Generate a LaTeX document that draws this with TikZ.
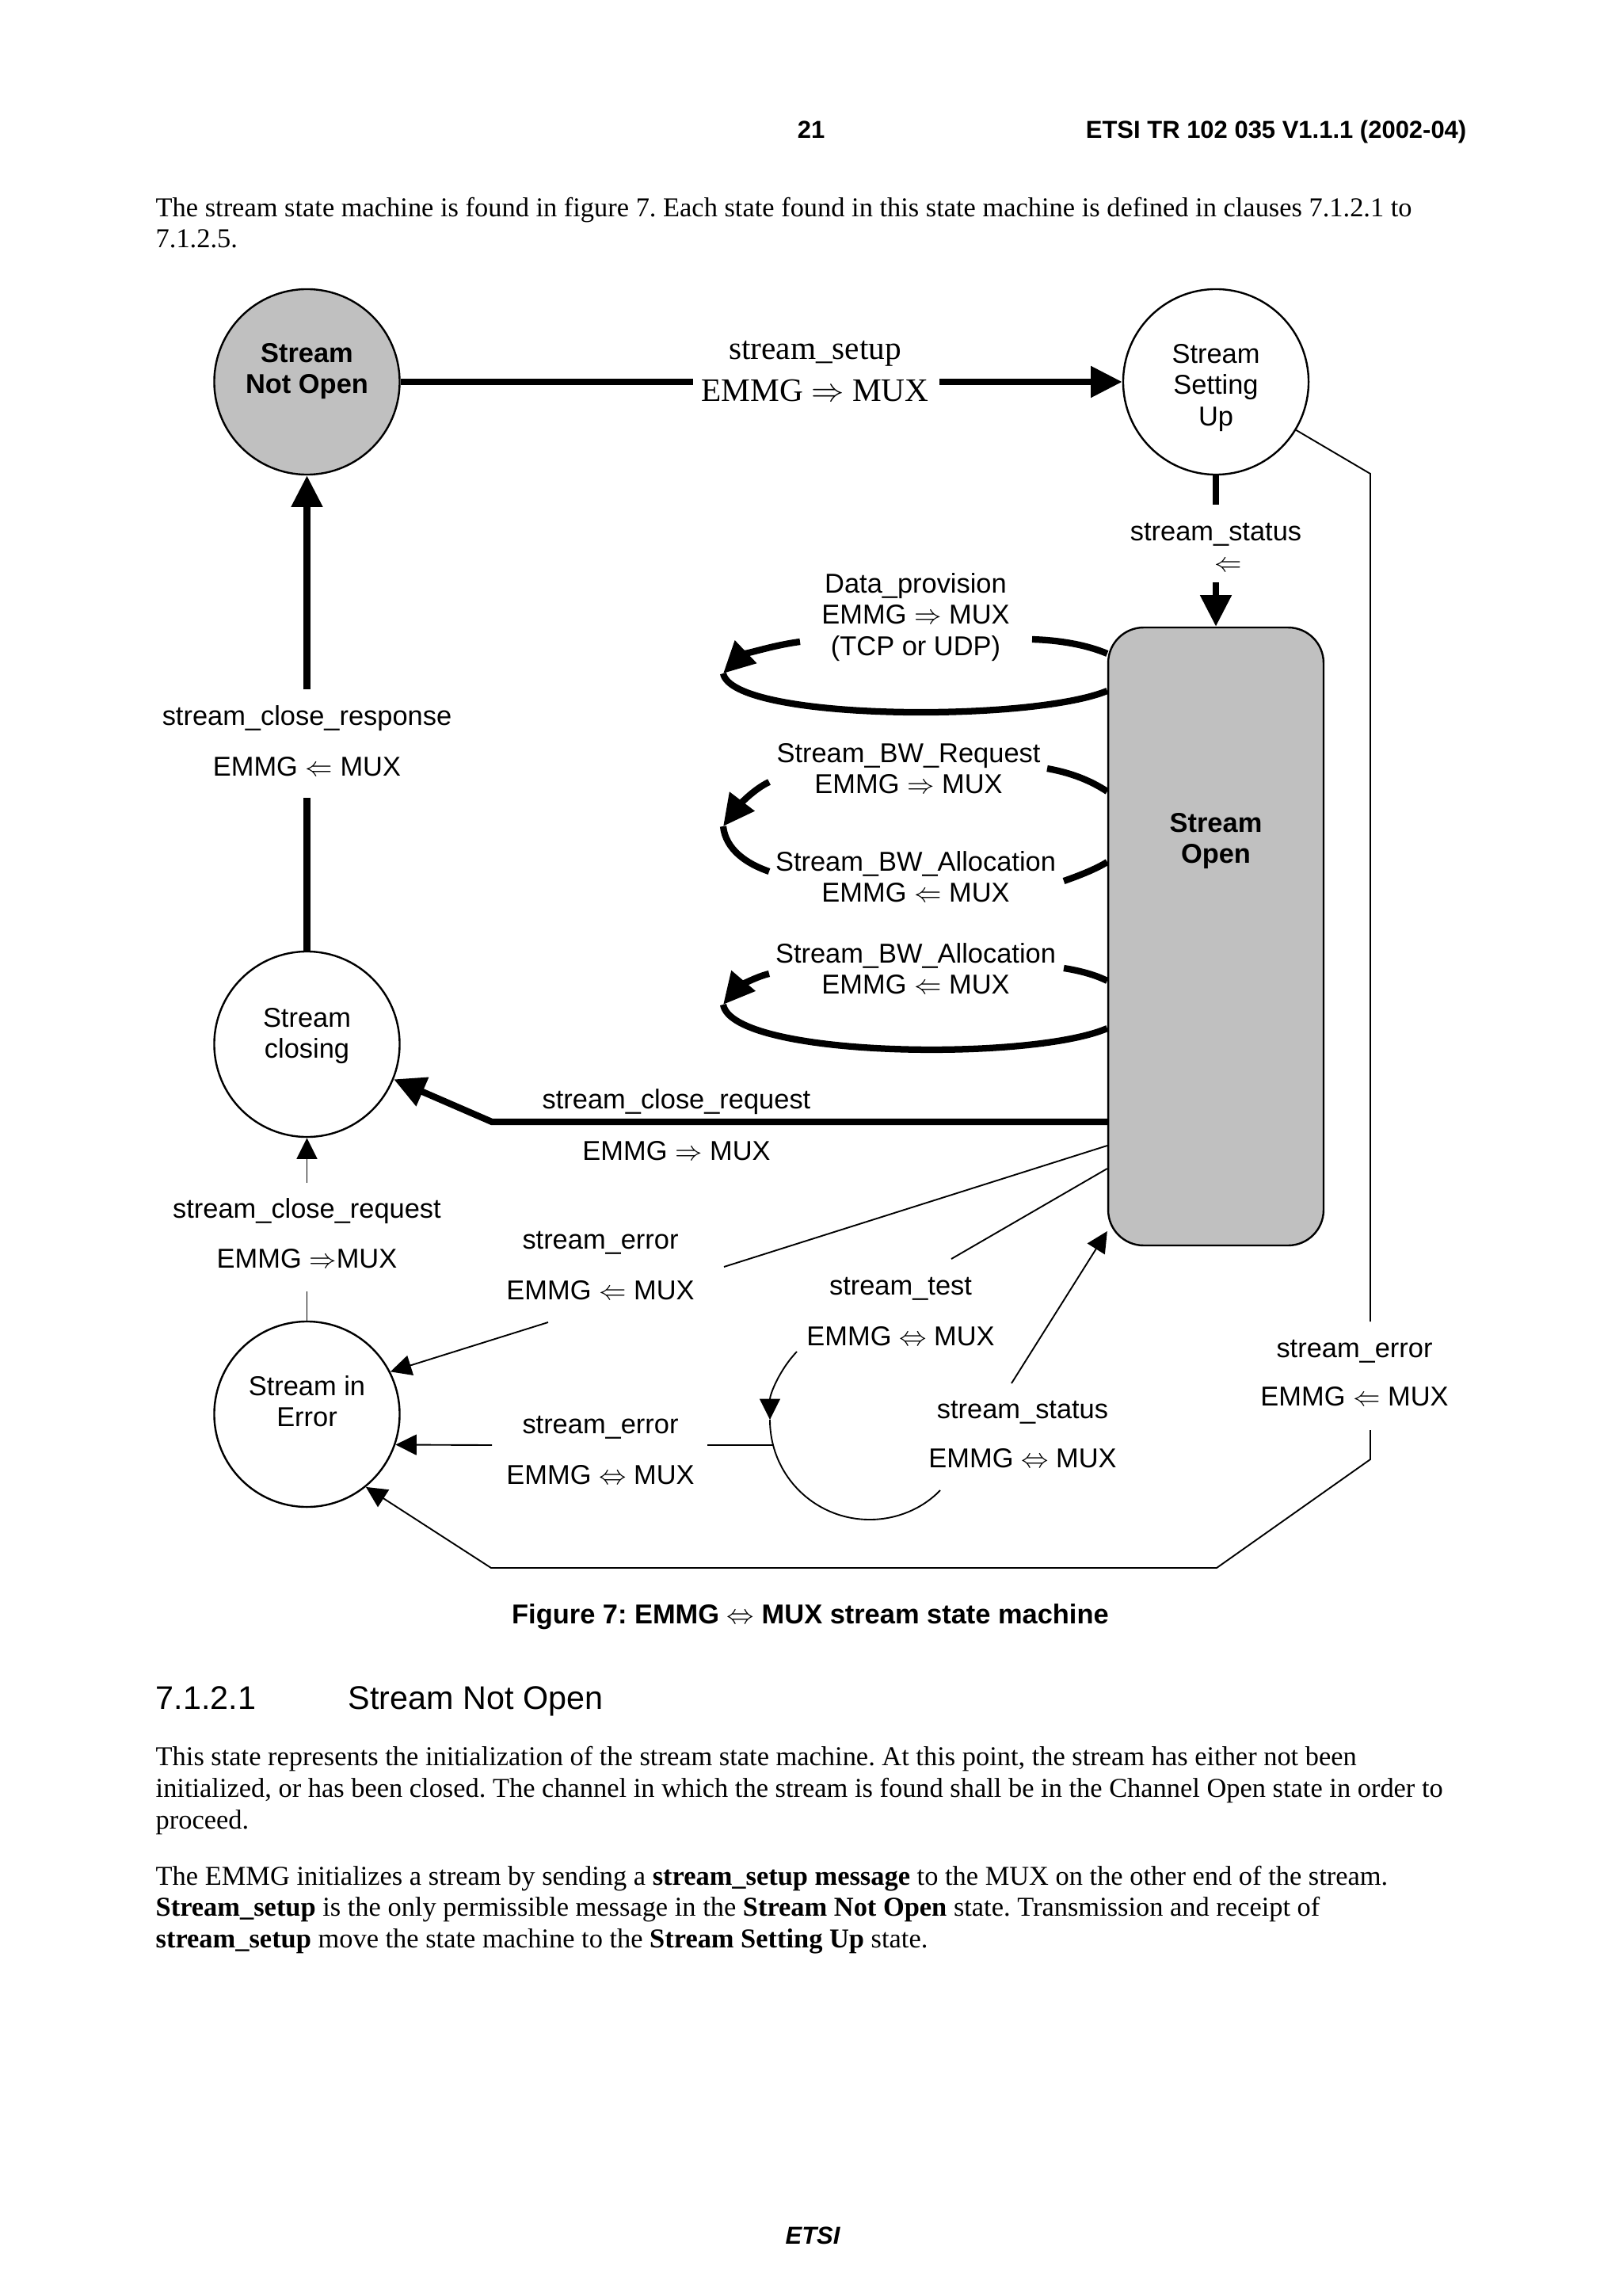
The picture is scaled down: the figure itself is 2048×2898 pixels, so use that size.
\documentclass[tikz,border=0pt]{standalone}
\usepackage{fontspec}
\setmainfont{Liberation Serif}
\setsansfont{Liberation Sans}
\usetikzlibrary{arrows.meta}
\definecolor{stgray}{HTML}{C0C0C0}
\frenchspacing
\begin{document}
\begin{tikzpicture}[x=0.29053pt,y=-0.29053pt,
  thickc/.style={line width=2.4pt},
  thinc/.style={line width=0.55pt},
  thickarr/.style={-{Triangle[length=11.5pt,width=11pt]}},
  thinarr/.style={-{Triangle[length=7.7pt,width=7.5pt]}},
  state/.style={circle,draw,line width=0.7pt,minimum size=68pt,inner sep=0pt},
  lbl/.style={font=\sffamily\fontsize{10}{11.5}\selectfont,inner sep=0pt,align=center,anchor=north},
  boldlbl/.style={lbl,font=\sffamily\bfseries\fontsize{10}{11.5}\selectfont},
  body/.style={font=\rmfamily\fontsize{10}{11.5}\selectfont\frenchspacing,inner sep=0pt,anchor=base west},
  hdr/.style={font=\sffamily\bfseries\fontsize{9}{10.5}\selectfont,inner sep=0pt},
]
\useasboundingbox (0,0) rectangle (2048,2898);
\fill[white] (0,0) rectangle (2048,2898);

% ---------- page text ----------
\node[hdr,anchor=base] (pagenum) at (1024,175) {21};
\node[hdr,anchor=base east] (docid) at (1852,175) {ETSI TR 102 035 V1.1.1 (2002-04)};
\node[body] (intro1) at (196,274) {The stream state machine is found in figure 7. Each state found in this state machine is defined in clauses 7.1.2.1 to};
\node[body] (intro2) at (196,313) {7.1.2.5.};

\node[font=\sffamily\bfseries\fontsize{10}{11.5}\selectfont,inner sep=0pt,anchor=base] (caption) at (1023,2049) {Figure 7: EMMG $\Leftrightarrow$ MUX stream state machine};
\node[font=\sffamily\fontsize{12}{14}\selectfont,inner sep=0pt,anchor=base west] (secnum) at (196,2157) {7.1.2.1};
\node[font=\sffamily\fontsize{12}{14}\selectfont,inner sep=0pt,anchor=base west] (sectitle) at (439,2157) {Stream Not Open};
\node[body] (p1a) at (196,2228) {This state represents the initialization of the stream state machine. At this point, the stream has either not been};
\node[body] (p1b) at (196,2268) {initialized, or has been closed. The channel in which the stream is found shall be in the Channel Open state in order to};
\node[body] (p1c) at (196,2308) {proceed.};
\node[body] (p2a) at (196,2379) {The EMMG initializes a stream by sending a \textbf{stream\_setup message} to the MUX on the other end of the stream.};
\node[body] (p2b) at (196,2418) {\textbf{Stream\_setup} is the only permissible message in the \textbf{Stream Not Open} state. Transmission and receipt of};
\node[body] (p2c) at (196,2458) {\textbf{stream\_setup} move the state machine to the \textbf{Stream Setting Up} state.};
\node[font=\sffamily\bfseries\itshape\fontsize{9}{10.5}\selectfont,inner sep=0pt,anchor=base] (footer) at (1026,2832) {ETSI};

% ---------- states ----------
\node[state,fill=stgray] (notopen) at (387.5,482) {};
\node[state] (setup) at (1535,482) {};
\node[draw,fill=stgray,line width=0.7pt,rounded corners=13pt,minimum width=79pt,minimum height=226.6pt,inner sep=0pt] (open) at (1535,1182) {};
\node[state] (closing) at (387.5,1318) {};
\node[state] (error) at (387.5,1785) {};

\node[boldlbl] (notopentxt) at (387.5,429) {\strut Stream\\Not Open};
\node[lbl] (setuptxt) at (1535,430) {\strut Stream\\Setting\\Up};
\node[boldlbl] (opentxt) at (1535,1022) {\strut Stream\\Open};
\node[lbl] (closingtxt) at (387.5,1268) {\strut Stream\\closing};
\node[lbl] (errortxt) at (387.5,1733) {\strut Stream in\\Error};

% ---------- stream_setup ----------
\coordinate (ssA) at (875,482);
\coordinate (ssB) at (1186,482);
\draw[thickc] (notopen.east) -- (ssA);
\draw[thickc,thickarr] (ssB) -- (setup.west);
\node[font=\rmfamily\fontsize{12}{15.4}\selectfont,inner sep=0pt,align=center,anchor=north] (setuplbl) at (1029,416) {\strut stream\_setup\\EMMG $\Rightarrow$ MUX};

% ---------- stream_status (setup -> open) ----------
\coordinate (stA) at (1535,637);
\coordinate (stB) at (1535,735);
\draw[thickc] (setup.south) -- (stA);
\draw[thickc,thickarr] (stB) -- (open.north);
\node[lbl] (stlbl) at (1535,654) {\strut stream\_status};
\node[font=\sffamily\fontsize{10}{11.5}\selectfont,inner sep=0pt] (starrow) at (1551,715) {$\Leftarrow$};

% ---------- self loops on Stream Open ----------
\coordinate (l1a) at (1303,807);
\coordinate (l1b) at (1010,810);
\coordinate (l1t) at (913,850);
\draw[thickc] (open.west |- 0,825) .. controls (1372,814) and (1338,808) .. (l1a);
\draw[thickc,thickarr] (l1b) .. controls (972,815) and (936,828) .. (l1t);
\draw[thickc] (l1t) .. controls (925,910) and (1300,912) .. (open.west |- 0,872);
\node[lbl] (l1lbl) at (1156,720) {\strut Data\_provision\\EMMG $\Rightarrow$ MUX\\(TCP or UDP)};

\coordinate (l2a) at (1322,970);
\coordinate (l2b) at (971,987);
\coordinate (l2t) at (913,1043);
\coordinate (l2c) at (971,1100);
\coordinate (l2d) at (1343,1112);
\draw[thickc] (open.west |- 0,999) .. controls (1375,984) and (1350,975) .. (l2a);
\draw[thickc,thickarr] (l2b) .. controls (950,997) and (932,1018) .. (l2t);
\draw[thickc] (l2t) .. controls (916,1072) and (942,1090) .. (l2c);
\draw[thickc] (l2d) .. controls (1366,1104) and (1385,1096) .. (open.west |- 0,1088);
\node[lbl] (l2lbl) at (1147,934) {\strut Stream\_BW\_Request\\EMMG $\Rightarrow$ MUX};
\node[lbl] (l2lblb) at (1156,1071) {\strut Stream\_BW\_Allocation\\EMMG $\Leftarrow$ MUX};

\coordinate (l3a) at (1343,1222);
\coordinate (l3b) at (971,1229);
\coordinate (l3t) at (913,1268);
\draw[thickc] (open.west |- 0,1238) .. controls (1382,1230) and (1362,1225) .. (l3a);
\draw[thickc,thickarr] (l3b) .. controls (950,1234) and (930,1248) .. (l3t);
\draw[thickc] (l3t) .. controls (925,1335) and (1300,1340) .. (open.west |- 0,1298);
\node[lbl] (l3lbl) at (1156,1187) {\strut Stream\_BW\_Allocation\\EMMG $\Leftarrow$ MUX};

% ---------- stream_close_response ----------
\coordinate (crA) at (387.5,1007);
\coordinate (crB) at (387.5,870);
\draw[thickc] (closing.north) -- (crA);
\draw[thickc,thickarr] (crB) -- (notopen.south);
\node[lbl] (crlbl) at (387.5,887) {\strut stream\_close\_response\\[7pt]EMMG $\Leftarrow$ MUX};

% ---------- stream_close_request (thick) ----------
\coordinate (cqA) at (621,1416);
\draw[thickc,thickarr] (open.west |- cqA) -- (cqA) -- (closing.-22);
\node[lbl] (cqlbl) at (854,1371) {\strut stream\_close\_request\\[7.3pt]EMMG $\Rightarrow$ MUX};

% ---------- stream_close_request (thin) ----------
\coordinate (cqB) at (387.5,1630);
\coordinate (cqC) at (387.5,1493);
\draw[thinc] (error.north) -- (cqB);
\draw[thinc,thinarr] (cqC) -- (closing.south);
\node[lbl] (cq2lbl) at (387.5,1509) {\strut stream\_close\_request\\[6.8pt]EMMG $\Rightarrow$MUX};

% ---------- stream_error (diagonal) ----------
\coordinate (seA) at (914,1599);
\coordinate (seB) at (692,1669);
\draw[thinc] (open.west |- 0,1446) -- (seA);
\draw[thinc,thinarr] (seB) -- (error.27);
\node[lbl] (se1lbl) at (758,1548) {\strut stream\_error\\[7pt]EMMG $\Leftarrow$ MUX};

% ---------- stream_test loop ----------
\coordinate (tA) at (1201,1589);
\coordinate (tB) at (1006,1706);
\coordinate (tC) at (972,1792);
\coordinate (tBot) at (1098,1918);
\coordinate (tD) at (1187,1881);
\draw[thinc] (open.west |- 0,1475) -- (tA);
\draw[thinc,thinarr] (tB) .. controls (984,1729) and (972,1760) .. (tC);
\draw[thinc] (tC) .. controls (972,1862) and (1028,1918) .. (tBot) .. controls (1131,1918) and (1164,1905) .. (tD);
\node[lbl] (tlbl) at (1137,1606) {\strut stream\_test\\[7pt]EMMG $\Leftrightarrow$ MUX};

% ---------- stream_error (horizontal) ----------
\coordinate (shA) at (976,1824);
\coordinate (shB) at (893,1824);
\coordinate (shC) at (621,1824);
\draw[thinc] (shA) -- (shB);
\draw[thinc,thinarr] (shC) -- (error.-19.5);
\node[lbl] (se2lbl) at (758,1781) {\strut stream\_error\\[7pt]EMMG $\Leftrightarrow$ MUX};

% ---------- stream_status (to open) ----------
\coordinate (sbA) at (1277,1746);
\draw[thinc,thinarr] (sbA) -- (open.west |- 0,1554);
\node[lbl] (sblbl) at (1291,1762) {\strut stream\_status\\[6.5pt]EMMG $\Leftrightarrow$ MUX};

% ---------- stream_error (right side) ----------
\coordinate (reA) at (1730,598);
\coordinate (reB) at (1730,1668);
\coordinate (reC) at (1730,1805);
\coordinate (reD) at (1730,1842);
\coordinate (reE) at (1536,1979);
\coordinate (reF) at (620,1979);
\draw[thinc] (setup.-31) -- (reA) -- (reB);
\draw[thinc,thinarr] (reC) -- (reD) -- (reE) -- (reF) -- (error.-51);
\node[lbl] (se3lbl) at (1710,1685) {\strut stream\_error\\[6.3pt]EMMG $\Leftarrow$ MUX};

\end{tikzpicture}
\end{document}
